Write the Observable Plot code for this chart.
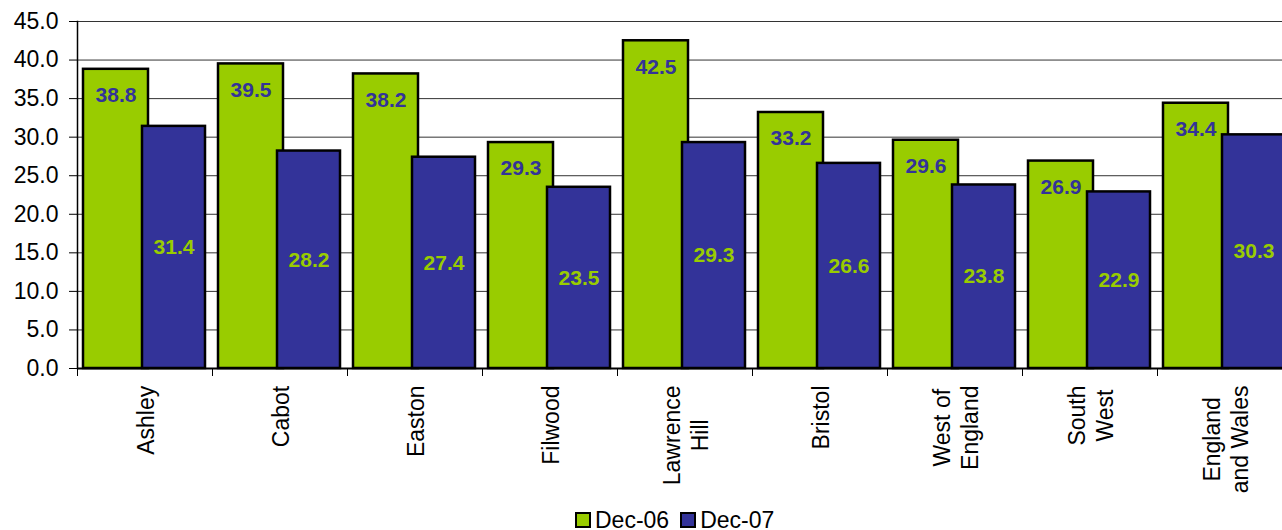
<!DOCTYPE html>
<html>
<head>
<meta charset="utf-8">
<script src="https://cdn.jsdelivr.net/npm/d3@7"></script>
<script src="https://cdn.jsdelivr.net/npm/@observablehq/plot@0.6"></script>
<style>
  html, body { margin: 0; padding: 0; background: #fff; }
  body { width: 1282px; height: 530px; position: relative; overflow: hidden; font-family: "Liberation Sans", Arial, sans-serif; }
  #chart svg { display: block; max-width: none; }
  #legend { position: absolute; left: 575px; top: 507px; height: 26px; display: flex; align-items: center; font-size: 23px; color: #000; }
  #legend .sw { width: 12px; height: 12px; border: 2px solid #000; margin-right: 4px; }
  #legend .item { display: flex; align-items: center; margin-right: 11px; }
</style>
</head>
<body>
<div id="chart"></div>
<div id="legend"></div>
<script>
const categories = ["Ashley", "Cabot", "Easton", "Filwood", "Lawrence\nHill", "Bristol", "West of\nEngland", "South\nWest", "England\nand Wales"];
const dec06 = [38.8, 39.5, 38.2, 29.3, 42.5, 33.2, 29.6, 26.9, 34.4];
const dec07 = [31.4, 28.2, 27.4, 23.5, 29.3, 26.6, 23.8, 22.9, 30.3];
const seriesNames = ["Dec-06", "Dec-07"];
const seriesColors = ["#99cc00", "#333399"];
const yTicks = [0, 5, 10, 15, 20, 25, 30, 35, 40, 45];

const d06 = categories.map((c, i) => ({cat: c, v: dec06[i]}));
const d07 = categories.map((c, i) => ({cat: c, v: dec07[i]}));

const W = 1282, H = 505, left = 77, step = 135;
const xRange = [left, left + step * categories.length];

const plot = Plot.plot({
  width: W,
  height: H,
  marginLeft: left,
  marginRight: 0,
  marginTop: 21,
  marginBottom: 137,
  style: {fontFamily: "'Liberation Sans', Arial, sans-serif", background: "#fff"},
  x: {domain: categories, range: xRange, padding: 0, label: null},
  y: {domain: [0, 45], label: null},
  marks: [
    Plot.gridY(yTicks, {stroke: "#333", strokeOpacity: 1}),
    Plot.axisY(yTicks, {tickFormat: d3.format(".1f"), fontSize: 23, tickSize: 8, tickPadding: 11, stroke: "#000", label: null}),
    Plot.axisX({tickSize: 8, text: null, dx: -step / 2, stroke: "#000", label: null}),
    Plot.axisX({tickSize: 0, tickPadding: 17, tickRotate: -90, textAnchor: "middle", lineAnchor: "middle", lineHeight: 1.2, fontSize: 23, fill: "#000", label: null}),
    Plot.barY(d06, {x: "cat", y: "v", fill: seriesColors[0], stroke: "#000", strokeWidth: 2.5, insetLeft: 6, insetRight: 64}),
    Plot.barY(d07, {x: "cat", y: "v", fill: seriesColors[1], stroke: "#000", strokeWidth: 2.5, insetLeft: 65, insetRight: 7}),
    Plot.text(d06, {x: "cat", y: "v", text: d => d.v.toFixed(1), dx: -29, dy: 26, fill: seriesColors[1], fontSize: 21, fontWeight: "bold"}),
    Plot.text(d07, {x: "cat", y: d => d.v / 2, text: d => d.v.toFixed(1), dx: 29, fill: seriesColors[0], fontSize: 21, fontWeight: "bold"}),
    Plot.frame({anchor: "left", stroke: "#000", strokeWidth: 1.5}),
    Plot.ruleY([0], {stroke: "#000", strokeWidth: 2})
  ]
});
document.getElementById("chart").appendChild(plot);

// center multi-line rotated labels while keeping the top of the block aligned
document.querySelectorAll('g[aria-label="x-axis tick label"] text').forEach(t => {
  const w = t.getBBox().width;
  const tr = t.getAttribute("transform") || "";
  t.setAttribute("transform", tr + ` translate(${-w / 2},0)`);
});

const legend = document.getElementById("legend");
seriesNames.forEach((n, i) => {
  const item = document.createElement("div");
  item.className = "item";
  const sw = document.createElement("div");
  sw.className = "sw";
  sw.style.background = seriesColors[i];
  const lab = document.createElement("span");
  lab.textContent = n;
  item.appendChild(sw);
  item.appendChild(lab);
  legend.appendChild(item);
});
</script>
</body>
</html>
